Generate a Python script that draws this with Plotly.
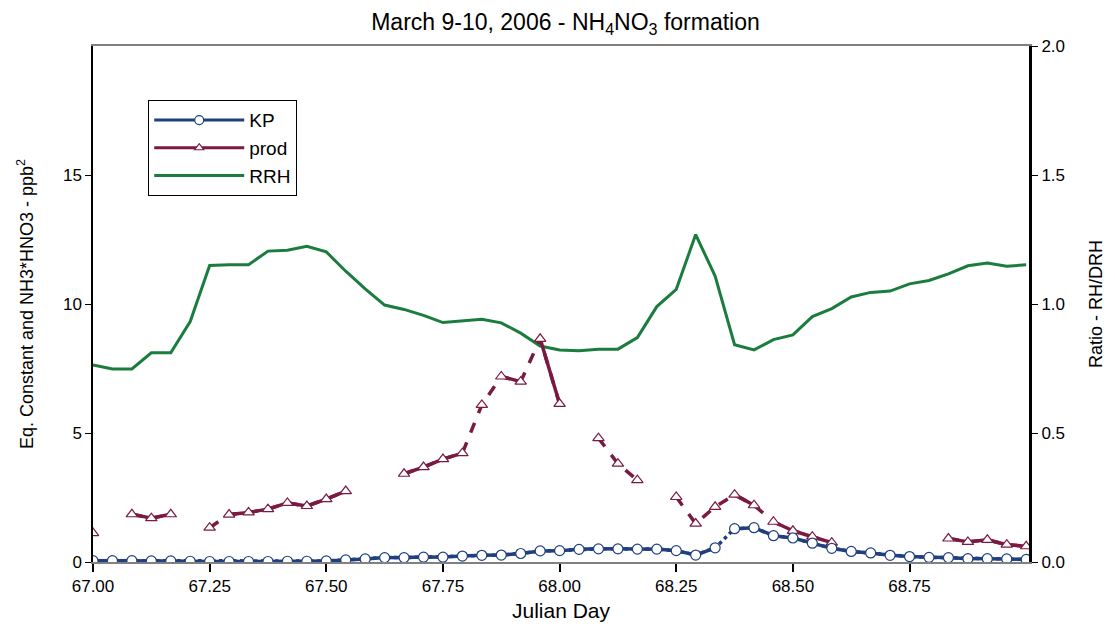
import plotly.graph_objects as go

# hourly samples, Julian day 67.00 -> 69.00
hours = list(range(49))
julian_day = [67 + h / 24 for h in hours]

# equilibrium constant (ppb^2)
kp = [0.05, 0.05, 0.05, 0.04, 0.04, 0.03, 0.02, 0.02, 0.02, 0.02,
      0.03, 0.03, 0.04, 0.08, 0.12, 0.17, 0.17, 0.19, 0.19, 0.23,
      0.26, 0.27, 0.33, 0.43, 0.44, 0.49, 0.51, 0.51, 0.50, 0.50,
      0.44, 0.27, 0.55, 1.29, 1.33, 1.02, 0.93, 0.73, 0.53, 0.41,
      0.35, 0.26, 0.21, 0.18, 0.17, 0.13, 0.13, 0.12, 0.10]

# NH3*HNO3 product (ppb^2), None = missing
prod = [1.12, None, 1.85, 1.70, 1.85, None, 1.33, 1.84, 1.92, 2.05,
        2.29, 2.17, 2.44, 2.75, None, None, 3.42, 3.68, 3.99, 4.22,
        6.09, 7.19, 6.99, 8.65, 6.13, None, 4.80, 3.81, 3.17, None,
        2.52, 1.49, 2.14, 2.61, 2.20, 1.56, 1.21, 0.98, 0.75, None,
        None, None, None, None, 0.91, 0.78, 0.86, 0.67, 0.61]

# RH / DRH ratio
rrh = [0.764, 0.748, 0.748, 0.811, 0.811, 0.932, 1.149, 1.152, 1.152, 1.205,
       1.208, 1.224, 1.202, 1.127, 1.059, 0.996, 0.979, 0.956, 0.928, 0.934,
       0.941, 0.927, 0.887, 0.837, 0.822, 0.819, 0.825, 0.825, 0.870, 0.990,
       1.057, 1.269, 1.108, 0.842, 0.822, 0.862, 0.880, 0.951, 0.982, 1.027,
       1.045, 1.050, 1.078, 1.091, 1.117, 1.148, 1.159, 1.146, 1.152]

# hour index where a dashed / solid segment starts
kp_dashed_starts = [32]
prod_solid_starts = [2, 3, 7, 8, 9, 10, 11, 12, 16, 17, 18, 21, 23, 33,
                     35, 36, 37, 44, 45, 46, 47]

x_ticks = [67.0, 67.25, 67.5, 67.75, 68.0, 68.25, 68.5, 68.75]

C_KP = '#1f3f7e'
C_PROD = '#7a1a40'
C_RRH = '#1b7d3d'
FONT = 'Liberation Sans, Arial, sans-serif'


def segments(x, y, starts):
    xs, ys = [], []
    for k in starts:
        if y[k] is None or y[k + 1] is None:
            continue
        xs += [x[k], x[k + 1], None]
        ys += [y[k], y[k + 1], None]
    return xs, ys


fig = go.Figure()

# RRH on the base (right) axis so the left-axis series draw on top
fig.add_trace(go.Scatter(
    x=julian_day, y=rrh, mode='lines', name='RRH',
    line=dict(color=C_RRH, width=3), yaxis='y', showlegend=False))

# prod: dashed under everything, solid segments on top
fig.add_trace(go.Scatter(
    x=julian_day, y=prod, mode='lines', yaxis='y2', showlegend=False,
    connectgaps=False, line=dict(color=C_PROD, width=3.5, dash='dash')))
sx, sy = segments(julian_day, prod, prod_solid_starts)
fig.add_trace(go.Scatter(
    x=sx, y=sy, mode='lines', yaxis='y2', showlegend=False,
    line=dict(color=C_PROD, width=3.5)))
fig.add_trace(go.Scatter(
    x=julian_day, y=prod, mode='markers', yaxis='y2', showlegend=False,
    marker=dict(symbol='triangle-up', size=10, color='white',
                line=dict(color=C_PROD, width=1.2))))

# KP: solid except a dashed hop
kp_solid = [k for k in range(len(kp) - 1) if k not in kp_dashed_starts]
kx, ky = segments(julian_day, kp, kp_solid)
fig.add_trace(go.Scatter(
    x=julian_day, y=kp, mode='lines', yaxis='y2', showlegend=False,
    line=dict(color=C_KP, width=3.5, dash='dot')))
fig.add_trace(go.Scatter(
    x=kx, y=ky, mode='lines', yaxis='y2', showlegend=False,
    line=dict(color=C_KP, width=3.5)))
fig.add_trace(go.Scatter(
    x=julian_day, y=kp, mode='markers', yaxis='y2', showlegend=False,
    marker=dict(symbol='circle', size=10, color='white',
                line=dict(color=C_KP, width=1.2))))

# legend entries
fig.add_trace(go.Scatter(x=[None], y=[None], mode='lines+markers', name='KP',
                         yaxis='y2', line=dict(color=C_KP, width=3),
                         marker=dict(symbol='circle', size=9, color='white',
                                     line=dict(color=C_KP, width=1.2))))
fig.add_trace(go.Scatter(x=[None], y=[None], mode='lines+markers', name='prod',
                         yaxis='y2', line=dict(color=C_PROD, width=3),
                         marker=dict(symbol='triangle-up', size=8, color='white',
                                     line=dict(color=C_PROD, width=1.2))))
fig.add_trace(go.Scatter(x=[None], y=[None], mode='lines', name='RRH',
                         yaxis='y2', line=dict(color=C_RRH, width=3)))

fig.update_layout(
    width=1115, height=628,
    margin=dict(l=85, r=94, t=38, b=74),
    paper_bgcolor='white', plot_bgcolor='white',
    font=dict(family=FONT, color='black', size=17),
    title=dict(text='March 9-10, 2006 - NH<sub>4</sub>NO<sub>3</sub> formation',
               x=0.5, xanchor='center', y=0.977, yanchor='middle',
               font=dict(size=23)),
    xaxis=dict(range=[67, 69.006], tickvals=x_ticks, tickformat='.2f',
               ticks='outside', ticklen=8, tickwidth=1.5, tickcolor='black',
               showline=True, linecolor='#808080', linewidth=2, mirror=True,
               showgrid=False, zeroline=False,
               title=dict(text='Julian Day', font=dict(size=21), standoff=8)),
    yaxis=dict(range=[0, 2], tickvals=[0, 0.5, 1.0, 1.5, 2.0], tickformat='.1f',
               side='right', ticks='outside', ticklen=6, tickcolor='black',
               showline=True, linecolor='black', linewidth=3,
               showgrid=False, zeroline=False,
               title=dict(text='Ratio - RH/DRH', font=dict(size=18), standoff=26)),
    yaxis2=dict(range=[0, 20], tickvals=[0, 5, 10, 15], overlaying='y',
                side='left', ticks='outside', ticklen=6, tickcolor='black',
                showline=True, linecolor='black', linewidth=1.5,
                showgrid=False, zeroline=False,
                title=dict(text='Eq. Constant and NH3*HNO3 - ppb<sup>2</sup>',
                           font=dict(size=18), standoff=25)),
    legend=dict(x=0.059, y=0.895, xanchor='left', yanchor='top',
                bgcolor='white', bordercolor='black', borderwidth=1,
                font=dict(size=19), itemwidth=90, tracegroupgap=0),
)

fig.write_html('out.html')
